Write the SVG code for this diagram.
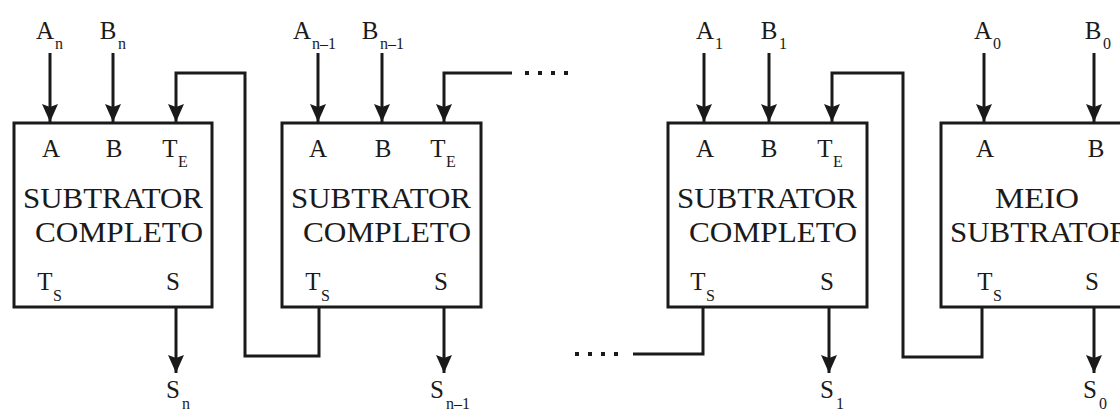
<svg xmlns="http://www.w3.org/2000/svg" width="1120" height="412" viewBox="0 0 1120 412">
<style>
.box{fill:#fff;stroke:#1a1a1a;stroke-width:3}
.wire{fill:none;stroke:#1a1a1a;stroke-width:3}
.arr{marker-end:url(#ah)}
text{font-family:"Liberation Serif","Times New Roman",serif;fill:#1a1a1a}
.l{font-size:25px;text-anchor:middle}
.s{font-size:16px}
.big{font-size:29px;text-anchor:middle}
.dot{fill:#1a1a1a}
</style>
<defs>
<marker id="ah" markerUnits="userSpaceOnUse" markerWidth="19" markerHeight="16" refX="18" refY="8" orient="auto">
<path d="M0,0 L18,8 L0,16 L3,8 Z" fill="#1a1a1a"/>
</marker>
</defs>
<rect width="1120" height="412" fill="#fff"/>

<g id="connectors">
<path class="wire arr" d="M50,53 V122"/>
<path class="wire arr" d="M113,53 V122"/>
<path class="wire arr" d="M319,307 V356 H245 V73 H176 V122"/>
<path class="wire arr" d="M176,307 V373"/>
<path class="wire arr" d="M318,53 V122"/>
<path class="wire arr" d="M382,53 V122"/>
<path class="wire arr" d="M512,73 H444 V122"/>
<path class="wire arr" d="M444,307 V373"/>
<path class="wire" d="M703,307 V354 H633"/>
<path class="wire arr" d="M704,53 V122"/>
<path class="wire arr" d="M769,53 V122"/>
<path class="wire arr" d="M829,307 V373"/>
<path class="wire arr" d="M982,307 V357 H903 V73 H832 V122"/>
<path class="wire arr" d="M984,53 V122"/>
<path class="wire arr" d="M1094,53 V122"/>
<path class="wire arr" d="M1094,307 V373"/>
<g class="dot">
<rect x="525" y="71" width="4" height="4"/>
<rect x="538" y="71" width="4" height="4"/>
<rect x="551" y="71" width="4" height="4"/>
<rect x="564" y="71" width="4" height="4"/>
<rect x="575" y="352" width="4" height="4"/>
<rect x="588" y="352" width="4" height="4"/>
<rect x="601" y="352" width="4" height="4"/>
<rect x="614" y="352" width="4" height="4"/>
</g>
</g>

<g id="labels">
<text class="l" x="45" y="39">A</text><text class="s" x="55" y="49">n</text>
<text class="l" x="108" y="39">B</text><text class="s" x="118" y="49">n</text>
<text class="l" x="302" y="39">A</text><text class="s" x="312" y="49">n–1</text>
<text class="l" x="370" y="39">B</text><text class="s" x="380" y="49">n–1</text>
<text class="l" x="705" y="39">A</text><text class="s" x="715" y="49">1</text>
<text class="l" x="769" y="39">B</text><text class="s" x="779" y="49">1</text>
<text class="l" x="983" y="39">A</text><text class="s" x="993" y="49">0</text>
<text class="l" x="1093" y="39">B</text><text class="s" x="1103" y="49">0</text>
<text class="l" x="173" y="398">S</text><text class="s" x="182" y="409">n</text>
<text class="l" x="437" y="398">S</text><text class="s" x="446" y="409">n–1</text>
<text class="l" x="827" y="398">S</text><text class="s" x="836" y="409">1</text>
<text class="l" x="1090" y="398">S</text><text class="s" x="1099" y="409">0</text>
</g>

<g id="fs_n">
<rect class="box" x="14" y="123" width="198" height="184"/>
<text class="l" x="51" y="157">A</text>
<text class="l" x="114" y="157">B</text>
<text class="l" x="170" y="157">T</text><text class="s" x="178" y="167">E</text>
<text class="big" x="113" y="208" textLength="180" lengthAdjust="spacingAndGlyphs">SUBTRATOR</text>
<text class="big" x="119" y="242" textLength="168" lengthAdjust="spacingAndGlyphs">COMPLETO</text>
<text class="l" x="45" y="290">T</text><text class="s" x="53" y="301">S</text>
<text class="l" x="173" y="290">S</text>
</g>

<g id="fs_n1">
<rect class="box" x="282" y="123" width="199" height="184"/>
<text class="l" x="318" y="157">A</text>
<text class="l" x="383" y="157">B</text>
<text class="l" x="438" y="157">T</text><text class="s" x="446" y="167">E</text>
<text class="big" x="381" y="208" textLength="180" lengthAdjust="spacingAndGlyphs">SUBTRATOR</text>
<text class="big" x="387" y="242" textLength="168" lengthAdjust="spacingAndGlyphs">COMPLETO</text>
<text class="l" x="313" y="290">T</text><text class="s" x="321" y="301">S</text>
<text class="l" x="441" y="290">S</text>
</g>

<g id="fs_1">
<rect class="box" x="668" y="123" width="199" height="184"/>
<text class="l" x="705" y="157">A</text>
<text class="l" x="769" y="157">B</text>
<text class="l" x="825" y="157">T</text><text class="s" x="833" y="167">E</text>
<text class="big" x="767" y="208" textLength="180" lengthAdjust="spacingAndGlyphs">SUBTRATOR</text>
<text class="big" x="773" y="242" textLength="168" lengthAdjust="spacingAndGlyphs">COMPLETO</text>
<text class="l" x="698" y="290">T</text><text class="s" x="706" y="301">S</text>
<text class="l" x="827" y="290">S</text>
</g>

<g id="hs_0">
<rect class="box" x="941" y="123" width="199" height="184"/>
<text class="l" x="985" y="157">A</text>
<text class="l" x="1096" y="157">B</text>
<text class="big" x="1037" y="208" textLength="84" lengthAdjust="spacingAndGlyphs">MEIO</text>
<text class="big" x="1040" y="242" textLength="180" lengthAdjust="spacingAndGlyphs">SUBTRATOR</text>
<text class="l" x="985" y="290">T</text><text class="s" x="993" y="301">S</text>
<text class="l" x="1092" y="290">S</text>
</g>
</svg>
